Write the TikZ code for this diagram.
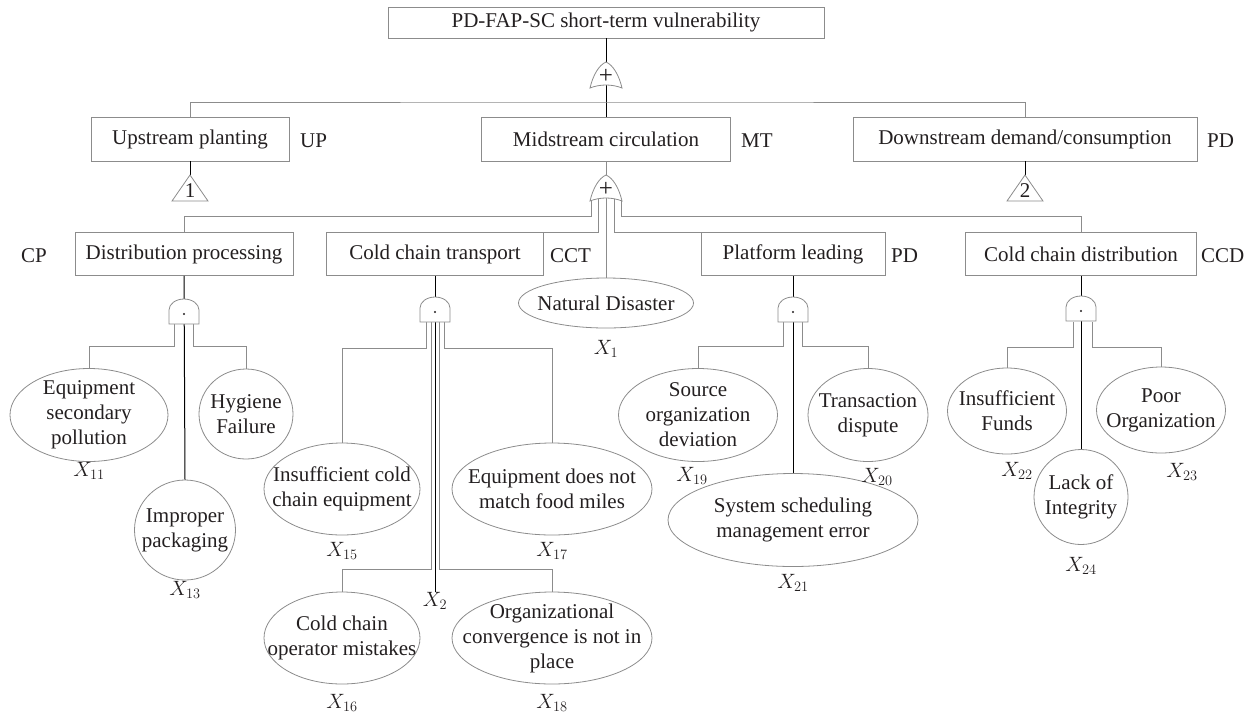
\documentclass[tikz,border=0pt]{standalone}
\usepackage{fontspec}
\setmainfont{Liberation Serif}
\usetikzlibrary{calc,shapes.geometric}
\definecolor{linegray}{HTML}{8C8C8C}
\definecolor{ink}{HTML}{231F20}
\tikzset{
  box/.style={draw=linegray, line width=0.8pt, minimum height=43pt, inner sep=0pt},
  event/.style={ellipse, draw=linegray, line width=0.8pt, align=center, inner xsep=-25pt, inner ysep=-8pt},
  lab/.style={inner sep=0pt},
  main/.style={draw=black, line width=1pt},
  side/.style={draw=linegray, line width=0.8pt},
  gate/.style={draw=linegray, line width=0.8pt, fill=white}
}
% OR gate and AND gate symbols
\newcommand{\orgate}[1]{%
  \draw[gate,shift={(#1)}] (-16,13) .. controls (-13,0) and (-7,-10) .. (0,-13)
    .. controls (7,-10) and (13,0) .. (16,13)
    .. controls (6,9) and (-6,9) .. cycle;
  \node[inner sep=0pt,font=\fontsize{25}{25}\selectfont] at ($(#1)+(0,1)$) {+};}
\newcommand{\andgate}[1]{%
  \draw[gate,shift={(#1)}] (-15,12) -- (-15,-2)
    arc[start angle=180,end angle=0,x radius=15pt,y radius=11pt] -- (15,12) -- cycle;
  \fill[ink] (#1) ++(0,2) circle[radius=1.2pt];}

\begin{document}
\begin{tikzpicture}[x=1pt,y=-1pt,font=\fontsize{21}{25}\selectfont,text=ink]
\useasboundingbox (0,0) rectangle (1255,716);

\coordinate (g0) at (606,75);
\coordinate (g1) at (606,188);
\coordinate (gcp) at (184,312);
\coordinate (gcct) at (435,310);
\coordinate (gpl) at (793,310);
\coordinate (gccd) at (1081,309);
\coordinate (t1) at (190,175);
\coordinate (t2) at (1025,175);

% top event and first level
\node[box,minimum width=436pt,minimum height=31pt] (top) at (606,22.5) {PD-FAP-SC short-term vulnerability};
\node[box,minimum width=198pt,minimum height=44pt] (up) at (190,139) {Upstream planting};
\node[box,minimum width=249pt,minimum height=44pt] (mt) at (606,139) {Midstream circulation};
\node[box,minimum width=344pt,minimum height=44pt] (pdn) at (1025,139) {Downstream demand/consumption};
\node[lab,anchor=west] (lup) at (300,141) {UP};
\node[lab,anchor=west] (lmt) at (741,141) {MT};
\node[lab,anchor=west] (lpdn) at (1207,141) {PD};

% second level
\node[box,minimum width=218pt] (cp) at (184,254) {Distribution processing};
\node[box,minimum width=217pt] (cct) at (435,254) {Cold chain transport};
\node[box,minimum width=184pt] (pl) at (793,254) {Platform leading};
\node[box,minimum width=231pt] (ccd) at (1081,254) {Cold chain distribution};
\node[lab] (lcp) at (34,256) {CP};
\node[lab,anchor=west] (lcct) at (550,256) {CCT};
\node[lab,anchor=west] (lpl) at (891,256) {PD};
\node[lab,anchor=west] (lccd) at (1201,256) {CCD};

% basic events
\node[event,minimum width=175pt,minimum height=50pt] (e1) at (606,303) {Natural Disaster};
\node[event,minimum width=158pt,minimum height=93pt] (e11) at (89,415) {Equipment\\secondary\\pollution};
\node[event,minimum width=94pt,minimum height=90pt] (e12) at (246,414) {Hygiene\\Failure};
\node[event,minimum width=101pt,minimum height=100pt] (e13) at (185,530) {Improper\\packaging};
\node[event,minimum width=156pt,minimum height=92pt] (e15) at (342,489) {Insufficient cold\\chain equipment};
\node[event,minimum width=200pt,minimum height=92pt] (e17) at (552,489) {Equipment does not\\match food miles};
\node[event,minimum width=156pt,minimum height=92pt] (e16) at (342,638) {Cold chain\\operator mistakes};
\node[event,minimum width=200pt,minimum height=92pt] (e18) at (552,638) {Organizational\\convergence is not in\\place};
\node[event,minimum width=159pt,minimum height=93pt] (e19) at (698,415) {Source\\organization\\deviation};
\node[event,minimum width=120pt,minimum height=93pt] (e20) at (868,415) {Transaction\\dispute};
\node[event,minimum width=250pt,minimum height=93pt] (e21) at (793,520) {System scheduling\\management error};
\node[event,minimum width=119pt,minimum height=86pt] (e22) at (1007,411) {Insufficient\\Funds};
\node[event,minimum width=129pt,minimum height=86pt] (e23) at (1161,410) {Poor\\Organization};
\node[event,minimum width=94pt,minimum height=95pt] (e24) at (1081,497) {Lack of\\Integrity};

% event labels
\node[lab] (x1) at (606,349) {$X_1$};
\node[lab] (x2) at (435,601) {$X_2$};
\node[lab] (x11) at (89,471) {$X_{11}$};
\node[lab] (x13) at (185,590) {$X_{13}$};
\node[lab] (x15) at (342,551) {$X_{15}$};
\node[lab] (x17) at (552,551) {$X_{17}$};
\node[lab] (x16) at (342,703) {$X_{16}$};
\node[lab] (x18) at (552,703) {$X_{18}$};
\node[lab] (x19) at (692,476) {$X_{19}$};
\node[lab] (x20) at (877,477) {$X_{20}$};
\node[lab] (x21) at (793,583) {$X_{21}$};
\node[lab] (x22) at (1017,471) {$X_{22}$};
\node[lab] (x23) at (1182,472) {$X_{23}$};
\node[lab] (x24) at (1081,566) {$X_{24}$};

% connectors
\draw[main] (top.south) -- (mt.north);
\draw[side] (up.north) |- ($(g0)+(0,27)$) -| (pdn.north);
\draw[main] (up.south) -- (t1);
\draw[main] (pdn.south) -- (t2);

\draw[side] (mt.south) -- (e1.north);
\draw[side] ($(g1)+(-15,13)$) -- ++(0,15) -| (cp.north);
\draw[side] ($(g1)+(-8,11)$) |- (cct.north);
\draw[side] ($(g1)+(8,11)$) |- (pl.north);
\draw[side] ($(g1)+(15,13)$) -- ++(0,15) -| (ccd.north);

\draw[main] (cp.south) -- (e13.north);
\draw[side] ($(gcp)+(-10,12)$) -- ++(0,22) -| (e11.north);
\draw[side] ($(gcp)+(9,12)$) -- ++(0,22) -| (e12.north);

\draw[main] (cct.south) -- (x2.north);
\draw[side] ($(gcct)+(-9,12)$) -- ++(0,26) -| (e15.north);
\draw[side] ($(gcct)+(-4,12)$) -- ++(0,247) -| (e16.north);
\draw[side] ($(gcct)+(4,12)$) -- ++(0,247) -| (e18.north);
\draw[side] ($(gcct)+(9,12)$) -- ++(0,26) -| (e17.north);

\draw[main] (pl.south) -- (e21.north);
\draw[side] ($(gpl)+(-10,12)$) -- ++(0,24) -| (e19.north);
\draw[side] ($(gpl)+(9,12)$) -- ++(0,24) -| (e20.north);

\draw[main] (ccd.south) -- (e24.north);
\draw[side] ($(gccd)+(-8,13)$) -- ++(0,25) -| (e22.north);
\draw[side] ($(gccd)+(11,13)$) -- ++(0,25) -| (e23.north);

% gates
\orgate{g0}
\orgate{g1}
\andgate{gcp}
\andgate{gcct}
\andgate{gpl}
\andgate{gccd}

% transfer triangles
\draw[gate] (t1) -- ++(-18,26) -- ++(36,0) -- cycle;
\node[lab] (n1) at (190,191) {1};
\draw[gate] (t2) -- ++(-18,26) -- ++(36,0) -- cycle;
\node[lab] (n2) at (1025,191) {2};
\end{tikzpicture}
\end{document}
